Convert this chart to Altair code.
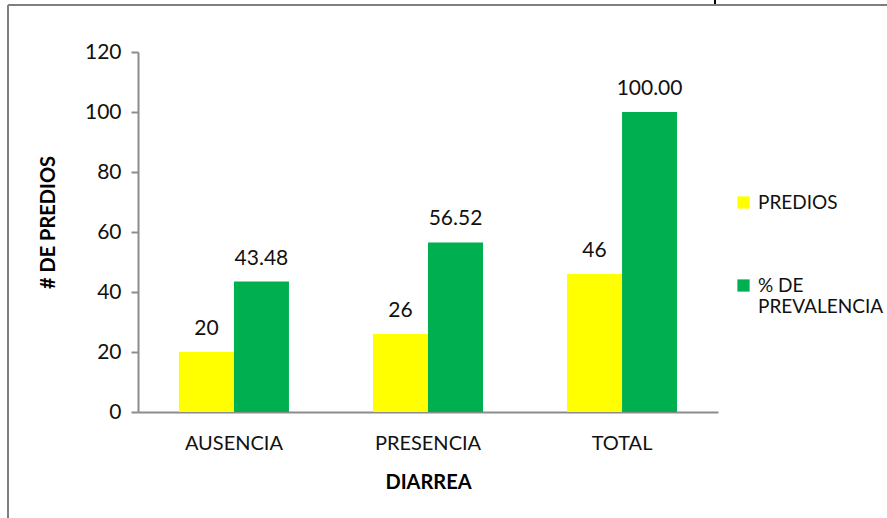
import altair as alt
import pandas as pd

categories = ["AUSENCIA", "PRESENCIA", "TOTAL"]
series = ["PREDIOS", "% DE PREVALENCIA"]
predios = [20, 26, 46]
prevalencia = [43.48, 56.52, 100.00]
predios_labels = ["20", "26", "46"]
prev_labels = ["43.48", "56.52", "100.00"]

rows = []
for c, v, l in zip(categories, predios, predios_labels):
    rows.append({"cat": c, "serie": series[0], "val": v, "lab": l})
for c, v, l in zip(categories, prevalencia, prev_labels):
    rows.append({"cat": c, "serie": series[1], "val": v, "lab": l})
df = pd.DataFrame(rows)

FONT = "Lato"
GRAY = "#8c8c8c"
TXT = "#111111"

x = alt.X("cat:N", sort=categories,
          scale=alt.Scale(paddingInner=0.433, paddingOuter=0.211),
          axis=alt.Axis(title="DIARREA", labelAngle=0, ticks=False, domainColor=GRAY,
                        domainWidth=2, labelFontSize=20, labelPadding=21, labelColor=TXT,
                        titleFontSize=20, titleFontWeight="bold", titlePadding=19,
                        titleColor="#000", labelFont=FONT, titleFont=FONT))
xo = alt.XOffset("serie:N", sort=series)
y = alt.Y("val:Q", scale=alt.Scale(domain=[0, 120]),
          axis=alt.Axis(title="# DE PREDIOS", values=[0, 20, 40, 60, 80, 100, 120], grid=False,
                        domainColor=GRAY, domainWidth=2, tickColor=GRAY, tickWidth=2, tickSize=7,
                        labelFontSize=21, labelPadding=10, labelColor=TXT, labelFont=FONT,
                        titleFontSize=20, titleFontWeight="bold", titleColor="#000",
                        titleFont=FONT, titlePadding=26, titleY=170))
color = alt.Color("serie:N", sort=series,
                  scale=alt.Scale(domain=series, range=["#FFFF00", "#00B050"]),
                  legend=alt.Legend(title=None, orient="none", legendX=596, legendY=141,
                                    symbolType="square", symbolSize=150, symbolStrokeWidth=0,
                                    labelFontSize=19, labelFont=FONT, labelColor=TXT,
                                    rowPadding=63, labelLimit=300, labelOffset=5,
                                    labelExpr="datum.label == '% DE PREVALENCIA' ? ['% DE', 'PREVALENCIA'] : datum.label"))

bars = alt.Chart(df).mark_bar(size=55).encode(x=x, xOffset=xo, y=y, color=color)
labels = alt.Chart(df).mark_text(dy=-13, baseline="bottom", fontSize=21, font=FONT,
                                 color=TXT).encode(x=x, xOffset=xo, y=y, text="lab:N")

frame_df = pd.DataFrame({"k": [0]})
top_line = alt.Chart(frame_df).mark_rule(color="#7f7f7f", strokeWidth=2).encode(
    x=alt.value(-130), x2=alt.value(760), y=alt.value(-47))
left_line = alt.Chart(frame_df).mark_rule(color="#7f7f7f", strokeWidth=2).encode(
    x=alt.value(-130), y=alt.value(-47), y2=alt.value(480))
stray = alt.Chart(frame_df).mark_rule(color="#000", strokeWidth=2).encode(
    x=alt.value(577), y=alt.value(-52), y2=alt.value(-48))

chart = alt.layer(bars, labels, top_line, left_line, stray).properties(
    width=580, height=360,
    autosize=alt.AutoSizeParams(type="none"),
    padding={"left": 138, "top": 52, "right": 169, "bottom": 106},
    background="white",
).configure_view(stroke=None)

chart.save("out.html", embed_options={"renderer": "svg", "actions": False})
